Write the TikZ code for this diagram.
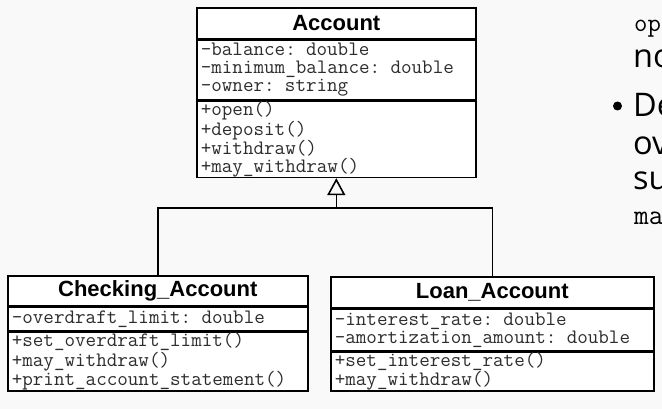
\documentclass[tikz,border=0pt]{standalone}
\usepackage{fontspec}
\usetikzlibrary{arrows.meta}
\newfontfamily\umlsans{Liberation Sans}
\newfontfamily\slidesans{Open Sans}
\newcommand\umltitlefont{\umlsans\bfseries\fontsize{22}{24}\selectfont}
\newcommand\umlmemfont{\ttfamily\fontsize{20.5}{17.9}\selectfont}
\definecolor{pagebg}{RGB}{249,249,249}
\definecolor{memgray}{RGB}{45,45,45}
\tikzset{
  umlbox/.style={draw=black, fill=white, line width=1.6pt, inner sep=0pt, anchor=north west},
  umltitle/.style={umlbox, font=\umltitlefont, align=center},
  umlmem/.style={umlbox, font=\umlmemfont, align=left, inner xsep=4pt, text=memgray},
  conn/.style={draw=black, line width=1.6pt},
  slidetext/.style={anchor=base west, inner sep=0pt, text=black},
}
\begin{document}
\begin{tikzpicture}[x=1pt, y=-1pt]
\useasboundingbox (0,0) rectangle (662,409);
\fill[pagebg] (0,0) rectangle (662,409);

% Account
\node[umltitle, minimum width=279pt, minimum height=31pt] (acct) at (196,7) {Account};
\node[umlmem, text width=271pt, minimum height=59pt] (acca) at (acct.south west)
  {-balance: double\\-minimum\_balance: double\\-owner: string};
\node[umlmem, text width=271pt, minimum height=76pt] (accm) at (acca.south west)
  {+open()\\+deposit()\\+withdraw()\\+may\_withdraw()};

% Checking_Account
\node[umltitle, minimum width=300pt, minimum height=30pt] (chkt) at (7,275) {Checking\_Account};
\node[umlmem, text width=292pt, minimum height=23pt] (chka) at (chkt.south west)
  {-overdraft\_limit: double};
\node[umlmem, text width=292pt, minimum height=59pt] (chkm) at (chka.south west)
  {+set\_overdraft\_limit()\\+may\_withdraw()\\+print\_account\_statement()};

% Loan_Account
\node[umltitle, minimum width=323pt, minimum height=31pt] (loant) at (330,276) {Loan\_Account};
\node[umlmem, text width=315pt, minimum height=41pt] (loana) at (loant.south west)
  {-interest\_rate: double\\-amortization\_amount: double};
\node[umlmem, text width=315pt, minimum height=39pt] (loanm) at (loana.south west)
  {+set\_interest\_rate()\\+may\_withdraw()};

% generalization
\coordinate (j) at (accm.south |- 0,208);
\draw[conn] (chkt.north) |- (j) -| (loant.north);
\draw[conn, -{Triangle[open, length=17pt, width=18pt]}] (j) -- (accm.south);

% slide text cut off at the right edge
\begin{scope}
\clip (0,0) rectangle (662,409);
\node[slidetext, font=\ttfamily\fontsize{26}{28}\selectfont] (t1) at (634,32) {op};
\node[slidetext, font=\slidesans\fontsize{32.5}{36}\selectfont] (t2) at (633,68) {no};
\node[circle, fill=black, inner sep=0pt, minimum size=9pt] (blt) at (617.5,106) {};
\node[slidetext, font=\slidesans\fontsize{32.5}{36}\selectfont] (t3) at (633,117) {De};
\node[slidetext, font=\slidesans\fontsize{32.5}{36}\selectfont] (t4) at (633,155) {ov};
\node[slidetext, font=\slidesans\fontsize{32.5}{36}\selectfont] (t5) at (633,190) {su};
\node[slidetext, font=\ttfamily\fontsize{28.5}{30}\selectfont] (t6) at (634,225) {ma};
\end{scope}
\end{tikzpicture}
\end{document}
